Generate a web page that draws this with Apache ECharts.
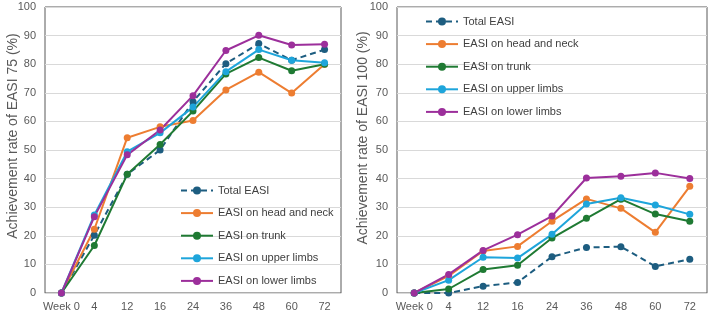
<!DOCTYPE html>
<html>
<head>
<meta charset="utf-8">
<script src="https://cdn.jsdelivr.net/npm/echarts@6/dist/echarts.min.js"></script>
<style>
  html, body { margin: 0; padding: 0; background: #fff; }
  #chart { width: 709px; height: 313px; }
</style>
</head>
<body>
<div id="chart"></div>
<script>
const weeks = ['Week 0', '4', '12', '16', '24', '36', '48', '60', '72'];
const seriesNames = ['Total EASI', 'EASI on head and neck', 'EASI on trunk', 'EASI on upper limbs', 'EASI on lower limbs'];
const seriesColors = ['#1d5d80', '#ed7d31', '#1f7a33', '#1ea5db', '#9c2f9b'];

// EASI 75 achievement rate (%)
const easi75Total = [0, 20.2, 41.5, 50, 66.9, 80.2, 87.2, 81.4, 85.1];
const easi75Head = [0, 22.3, 54.3, 58.1, 60.3, 71, 77.2, 69.9, 80];
const easi75Trunk = [0, 16.6, 41.5, 51.9, 63.6, 76.6, 82.3, 77.7, 80];
const easi75Upper = [0, 27.3, 49.4, 56, 65, 77.4, 85.1, 81.4, 80.5];
const easi75Lower = [0, 26.7, 48.3, 57, 69, 84.8, 90.1, 86.7, 87];

// EASI 100 achievement rate (%)
const easi100Total = [0, 0, 2.4, 3.7, 12.7, 15.9, 16.2, 9.3, 11.8];
const easi100Head = [0, 6, 14.7, 16.3, 25.1, 32.9, 29.6, 21.2, 37.3];
const easi100Trunk = [0, 1.4, 8.2, 9.7, 19.2, 26.1, 32.8, 27.6, 25.1];
const easi100Upper = [0, 4.5, 12.5, 12.2, 20.5, 31.1, 33.3, 30.8, 27.5];
const easi100Lower = [0, 6.5, 14.9, 20.4, 26.9, 40.2, 40.8, 42, 40];

const yTitles = ['Achievement rate of EASI 75 (%)', 'Achievement rate of EASI 100 (%)'];

const font = 'Arial, "Liberation Sans", sans-serif';
const panels = [
  [easi75Total, easi75Head, easi75Trunk, easi75Upper, easi75Lower],
  [easi100Total, easi100Head, easi100Trunk, easi100Upper, easi100Lower]
];

const chart = echarts.init(document.getElementById('chart'), null, { renderer: 'canvas' });

const series = [];
panels.forEach((panel, p) => {
  panel.forEach((values, i) => {
    series.push({
      name: seriesNames[i],
      type: 'line',
      xAxisIndex: p,
      yAxisIndex: p,
      data: values,
      symbol: 'circle',
      symbolSize: 7,
      color: seriesColors[i],
      lineStyle: {
        width: 2,
        type: i === 0 ? [6, 4] : 'solid'
      },
      emphasis: { disabled: true }
    });
  });
});

const xAxisBase = {
  type: 'category',
  data: weeks,
  boundaryGap: true,
  axisTick: { show: false },
  axisLine: { show: true, lineStyle: { color: '#d9d9d9', width: 1 } },
  axisLabel: { color: '#595959', fontSize: 11, fontFamily: font, margin: 8, interval: 0 }
};

const yAxisBase = {
  type: 'value',
  min: 0,
  max: 100,
  interval: 10,
  axisLine: { show: false },
  axisTick: { show: false },
  axisLabel: { color: '#595959', fontSize: 11, fontFamily: font, margin: 9 },
  splitLine: { show: true, lineStyle: { color: '#d9d9d9', width: 1 } }
};

const legendBase = {
  orient: 'vertical',
  itemWidth: 32,
  itemHeight: 10,
  itemGap: 11.6,
  textStyle: { color: '#404040', fontSize: 11, fontFamily: font },
  data: seriesNames,
  selectedMode: false
};

const option = {
  animation: false,
  backgroundColor: '#fff',
  grid: [
    { left: 45, top: 7, width: 296, height: 286, show: true, borderColor: '#595959', borderWidth: 1, backgroundColor: 'transparent' },
    { left: 397, top: 7, width: 310, height: 286, show: true, borderColor: '#595959', borderWidth: 1, backgroundColor: 'transparent' }
  ],
  xAxis: [
    Object.assign({ gridIndex: 0 }, xAxisBase),
    Object.assign({ gridIndex: 1 }, xAxisBase)
  ],
  yAxis: [
    Object.assign({ gridIndex: 0 }, yAxisBase),
    Object.assign({ gridIndex: 1 }, yAxisBase)
  ],
  legend: [
    Object.assign({ left: 175, top: 180 }, legendBase),
    Object.assign({ left: 420, top: 11 }, legendBase)
  ],
  graphic: [
    {
      type: 'text', x: 13, y: 136, rotation: Math.PI / 2,
      style: { text: yTitles[0], fill: '#595959', font: '14px ' + font, align: 'center', verticalAlign: 'middle' }
    },
    {
      type: 'text', x: 363, y: 138, rotation: Math.PI / 2,
      style: { text: yTitles[1], fill: '#595959', font: '14px ' + font, align: 'center', verticalAlign: 'middle' }
    }
  ],
  series: series
};

chart.setOption(option);
</script>
</body>
</html>
